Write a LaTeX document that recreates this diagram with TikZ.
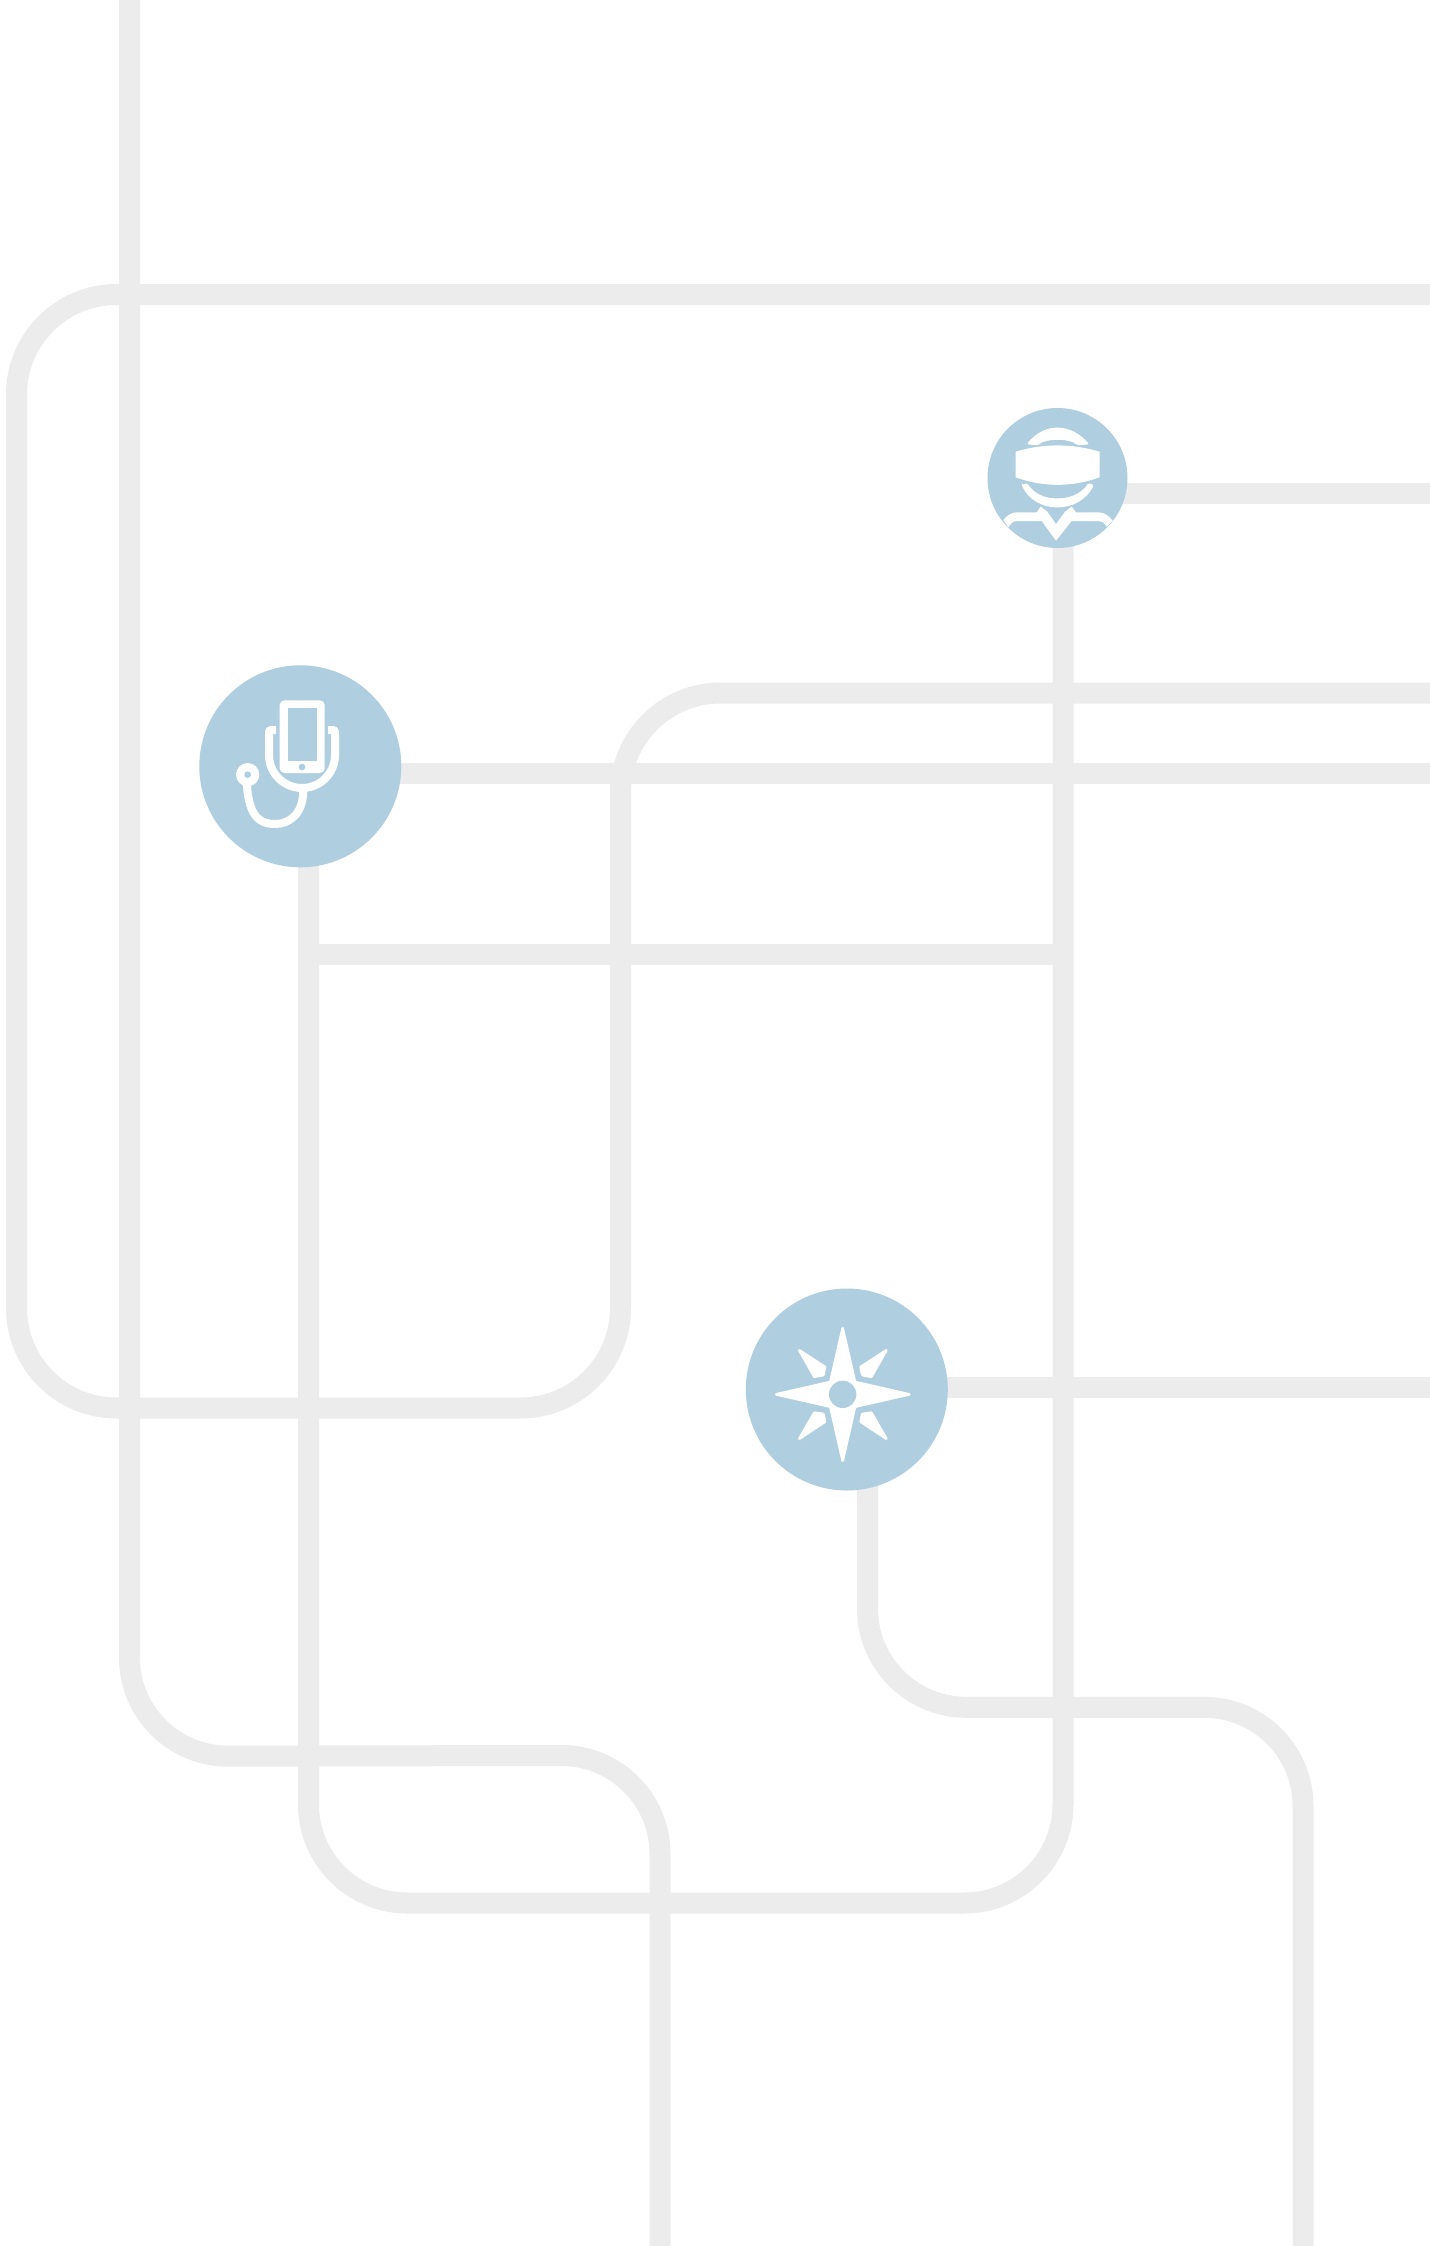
\documentclass[tikz,border=0pt]{standalone}
\usetikzlibrary{backgrounds}
\definecolor{railgrey}{HTML}{ECECEC}
\definecolor{hubblue}{HTML}{AFCEE0}
\tikzset{
  rail/.style={draw=railgrey,line width=15.75pt,line cap=butt,line join=round,rounded corners=74pt},
  straight/.style={draw=railgrey,line width=15.75pt,line cap=butt},
  hub/.style={circle,fill=hubblue,draw=none,inner sep=0pt,outer sep=0pt},
  iconfill/.style={fill=white,draw=none},
  iconround/.style={fill=white,draw=white,line width=2pt,line join=round},
  iconhole/.style={fill=hubblue,draw=none},
  iconline/.style={draw=white,line cap=butt,line join=round}
}
\begin{document}
\begin{tikzpicture}[x=0.75pt,y=-0.75pt]
\useasboundingbox (0,0) rectangle (1430,2246);
% hubs
\node[hub,minimum size=151.5pt] (medical) at (300.3,766.3) {};
\node[hub,minimum size=105pt] (person) at (1057.5,478) {};
\node[hub,minimum size=151.5pt] (compass) at (846.8,1389.5) {};
% free ends
\coordinate (topA) at (129.5,0);
\coordinate (botA) at (660,2246);
\coordinate (botC) at (1303,2246);
\coordinate (r1) at (1430,294.5);
\coordinate (r1b) at (1430,693);
\coordinate (r2) at (1430,493);
\coordinate (r3) at (1430,773);
\coordinate (r4) at (1430,1387);
\coordinate (junction) at (308.5,954);
\coordinate (jRight) at (1063,954);
\begin{pgfonlayer}{background}
\fill[white] (0,0) rectangle (1430,2246);
% loop from upper right edge round to the second right edge
\draw[rail,rounded corners=75pt] (r1) -- (16.5,294.5) -- (16.5,1408) -- (620.5,1408) -- (620.5,693) -- (r1b);
% long left vertical
\draw[rail] (topA) -- (129.5,1756.3) -- (660,1755.3) -- (botA);
% from medical hub down and round to person hub
\draw[rail] (medical.center -| junction) -- (308.5,1903) -- (1063,1903) -- (1063,478);
% from compass hub to lower right
\draw[rail] (867.5,1389.5) -- (867.5,1707.3) -- (1303,1707.3) -- (botC);
% straight runs
\draw[straight] (medical.center |- r3) -- (r3);
\draw[straight] (person.center |- r2) -- (r2);
\draw[straight] (compass.center |- r4) -- (r4);
\draw[straight] (junction) -- (jRight);
\end{pgfonlayer}
% stethoscope and phone
\begin{scope}[shift={(180,640)},x=0.25pt,y=-0.25pt]
\fill[iconfill,rounded corners=3.5pt] (299,181) rectangle (434,399);
\fill[iconhole] (324,205) rectangle (410,362);
\fill[iconhole] (366,381) circle[radius=10];
\draw[iconline,line width=6pt,rounded corners=1pt] (288,270) -- (267,270) -- (267,345);
\draw[iconline,line width=6pt,rounded corners=1pt] (465,345) -- (465,270) -- (444,270);
\draw[iconline,line width=6pt] (267,345) arc[start angle=180,end angle=0,radius=99];
\draw[iconline,line width=6pt] (370,450) .. controls (370,520) and (330,552) .. (285,552) .. controls (225,552) and (205,510) .. (200,425);
\fill[iconfill] (203,404) circle[radius=35];
\fill[iconhole] (203,404) circle[radius=10];
\end{scope}
% person with headset
\begin{scope}[shift={(970,390)},x=0.25pt,y=-0.25pt]
\fill[iconfill] (137,185) .. controls (220,160) and (305,160) .. (389,185) -- (389,262) .. controls (305,292) and (220,292) .. (137,262) -- cycle;
\fill[iconfill,rounded corners=1.2pt] (170,163) .. controls (195,130) and (230,113) .. (262,113) .. controls (295,113) and (330,130) .. (358,163) -- (322,166) .. controls (300,145) and (225,145) .. (205,166) -- cycle;
\fill[iconfill,rounded corners=1.2pt] (155,285) -- (172,279) .. controls (190,310) and (225,325) .. (262,325) .. controls (300,325) and (335,310) .. (355,279) -- (372,285) .. controls (350,330) and (305,352) .. (262,352) .. controls (220,352) and (175,330) .. (155,285) -- cycle;
\fill[iconfill] (100,390) .. controls (112,375) and (125,367) .. (140,367) -- (200,367) -- (212,350) -- (232,365) -- (258,402) -- (285,365) -- (305,350) -- (318,367) -- (385,367) .. controls (403,367) and (418,378) .. (428,392) -- (410,410) .. controls (403,398) and (395,393) .. (385,393) -- (305,393) -- (258,452) -- (215,393) -- (140,393) .. controls (130,393) and (122,400) .. (115,412) -- cycle;
\end{scope}
% compass star
\begin{scope}[shift={(730,1270)},x=0.25pt,y=-0.25pt]
\path[iconround] (338,175) -- (375,336) -- (538,373) -- (375,410) -- (338,572) -- (301,410) -- (139,373) -- (301,336) -- cycle;
\fill[iconhole] (338,373) circle[radius=41];
\path[iconround] (208,241) -- (285,291) -- (280,315) -- (253,320) -- cycle;
\path[iconround] (469,241) -- (392,291) -- (397,315) -- (424,320) -- cycle;
\path[iconround] (208,506) -- (285,455) -- (280,432) -- (253,428) -- cycle;
\path[iconround] (469,506) -- (392,455) -- (397,432) -- (424,428) -- cycle;
\end{scope}
\end{tikzpicture}
\end{document}
